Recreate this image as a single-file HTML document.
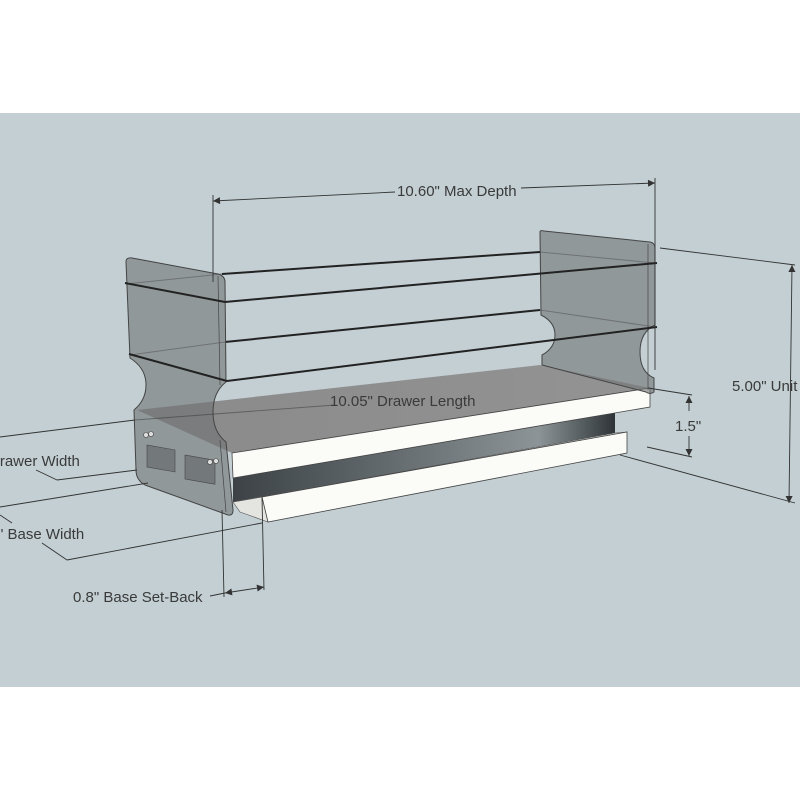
<!DOCTYPE html>
<html><head><meta charset="utf-8"><style>
html,body{margin:0;padding:0;background:#fff;}
svg{display:block;}
text{font-family:"Liberation Sans",sans-serif;fill:#3a3a3a;}
</style></head><body>
<svg width="800" height="800" viewBox="0 0 800 800" xmlns="http://www.w3.org/2000/svg">
<defs>
<linearGradient id="metal" x1="0" y1="0" x2="1" y2="0">
<stop offset="0" stop-color="#3c4246"/><stop offset="0.5" stop-color="#6c7478"/><stop offset="0.8" stop-color="#8c9498"/><stop offset="1" stop-color="#2e3438"/>
</linearGradient>
<linearGradient id="tray" x1="0" y1="0" x2="1" y2="0">
<stop offset="0" stop-color="#8a8a8a"/><stop offset="1" stop-color="#939393"/>
</linearGradient>
<marker id="ar" viewBox="0 0 10 10" refX="10" refY="5" markerWidth="9" markerHeight="7" orient="auto-start-reverse" markerUnits="userSpaceOnUse"><path d="M0,0 L10,5 L0,10z" fill="#333"/></marker>
</defs>
<rect x="0" y="113" width="800" height="574" fill="#c3cfd3"/>

<!-- tray surface -->
<polygon points="137,410 540,365 650,388 232,453" fill="url(#tray)"/>
<!-- metal slide -->
<polygon points="233,478 615,413 615,433 233,502" fill="url(#metal)"/>
<!-- white front band -->
<polygon points="232,453 650,388 650,407 233,478" fill="#fbfbf8" stroke="#444" stroke-width="0.8"/>
<!-- base board -->
<polygon points="233,502 262,497 268,522 240,512" fill="#e4e4e0" stroke="#555" stroke-width="0.6"/>
<polygon points="233,502 615,433 627,432 262,497" fill="#f4f4f0" stroke="#555" stroke-width="0.6"/>
<polygon points="262,497 627,432 627,453 268,522" fill="#fbfbf8" stroke="#444" stroke-width="0.8"/>

<!-- back wires (behind) -->
<g stroke="#222" stroke-width="2" fill="none">
<line x1="222" y1="274" x2="540" y2="252"/>
<line x1="225" y1="342" x2="540" y2="310"/>
</g>
<g stroke="#333" stroke-width="1" fill="none" stroke-opacity="0.6">
<line x1="126" y1="284" x2="222" y2="274"/>
<line x1="130" y1="355" x2="225" y2="342"/>
<line x1="540" y1="252" x2="655" y2="263"/>
<line x1="540" y1="310" x2="655" y2="327"/>
</g>

<!-- right panel -->
<path d="M540,232 Q540,230 544,231 L650,242 Q655,243 655,248 L655,325 Q640,332 640,352 Q640,372 654,378 L654,392 Q650,395 646,392 L542,365 L542,355 Q555,348 555,335 Q555,322 541,315 Z" fill="#6f7375" fill-opacity="0.6" stroke="#444" stroke-width="1"/>
<line x1="648" y1="244" x2="648" y2="390" stroke="#444" stroke-width="0.7"/>

<!-- left panel -->
<path d="M126,262 Q126,257 132,258 L218,274 Q225,276 225,282 L226,382 Q213,392 213,412 Q213,432 226,442 L233,510 Q233,516 228,515 L145,485 Q136,480 136,470 L134,410 Q146,400 146,385 Q146,368 130,358 Z" fill="#6f7375" fill-opacity="0.6" stroke="#444" stroke-width="1"/>
<line x1="218" y1="276" x2="220" y2="385" stroke="#444" stroke-width="0.7"/>
<line x1="220" y1="440" x2="226" y2="512" stroke="#444" stroke-width="0.7"/>
<!-- left panel details -->
<g fill="#55595b" fill-opacity="0.5" stroke="#444" stroke-width="0.6">
<rect x="147" y="445" width="28" height="22" transform="skewY(10)" transform-origin="147 445"/>
<rect x="185" y="455" width="30" height="24" transform="skewY(10)" transform-origin="185 455"/>
</g>
<g fill="#ddd" stroke="#444" stroke-width="0.6">
<circle cx="146" cy="435" r="2.5"/><circle cx="151" cy="434" r="2.5"/>
<circle cx="210" cy="462" r="2.5"/><circle cx="216" cy="461" r="2.5"/>
</g>

<!-- front wires -->
<g stroke="#222" stroke-width="2" fill="none">
<polyline points="125,283 225,302 657,263"/>
<polyline points="129,354 227,381 657,327"/>
</g>

<!-- dimension lines -->
<g stroke="#333" stroke-width="0.9" fill="none">
<line x1="213" y1="195" x2="213" y2="282"/>
<line x1="655" y1="178" x2="655" y2="370"/>
<line x1="213" y1="201" x2="395" y2="192" marker-start="url(#ar)"/>
<line x1="521" y1="188" x2="655" y2="183" marker-end="url(#ar)"/>
<line x1="660" y1="248" x2="795" y2="265"/>
<line x1="620" y1="455" x2="795" y2="503"/>
<line x1="792" y1="265" x2="789" y2="503" marker-start="url(#ar)" marker-end="url(#ar)"/>
<line x1="648" y1="388" x2="692" y2="395"/>
<line x1="647" y1="447" x2="692" y2="457"/>
<line x1="689" y1="396" x2="689" y2="411" marker-start="url(#ar)"/>
<line x1="689" y1="436" x2="689" y2="456" marker-end="url(#ar)"/>
<line x1="0" y1="437" x2="135" y2="420"/>
<line x1="135" y1="420" x2="335" y2="405" stroke-opacity="0.5"/>
<line x1="36" y1="470" x2="57" y2="480"/>
<line x1="57" y1="480" x2="137" y2="470"/>
<line x1="0" y1="507" x2="148" y2="483"/>
<line x1="0" y1="515" x2="12" y2="523"/>
<line x1="42" y1="543" x2="67" y2="560"/>
<line x1="67" y1="560" x2="262" y2="523"/>
<line x1="222" y1="510" x2="224" y2="597"/>
<line x1="262" y1="497" x2="264" y2="590"/>
<line x1="210" y1="596" x2="225" y2="593"/>
<line x1="225" y1="593" x2="264" y2="587" marker-start="url(#ar)" marker-end="url(#ar)"/>
</g>

<text x="397" y="196" font-size="15">10.60" Max Depth</text>
<text x="330" y="406" font-size="15" fill="#3a3a3a">10.05" Drawer Length</text>
<text x="732" y="391" font-size="15">5.00" Unit</text>
<text x="675" y="431" font-size="15">1.5"</text>
<text x="-11" y="466" font-size="15">Drawer Width</text>
<text x="-2" y="539" font-size="15">" Base Width</text>
<text x="73" y="602" font-size="15">0.8" Base Set-Back</text>
</svg>
</body></html>
